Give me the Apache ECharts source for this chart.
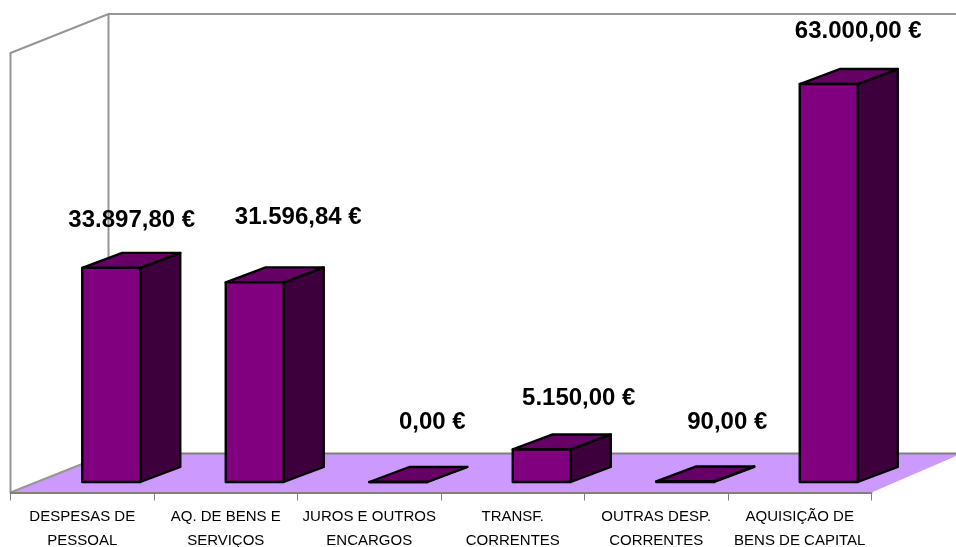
<!DOCTYPE html>
<html><head><meta charset="utf-8">
<style>html,body{margin:0;padding:0;background:#fff}#c{width:956px;height:547px}</style>
<script src="https://cdn.jsdelivr.net/npm/echarts@6/dist/echarts.min.js"></script>
</head><body><div id="c"></div>
<script>
const categories = ['DESPESAS DE\nPESSOAL','AQ. DE BENS E\nSERVIÇOS','JUROS E OUTROS\nENCARGOS','TRANSF.\nCORRENTES','OUTRAS DESP.\nCORRENTES','AQUISIÇÃO DE\nBENS DE CAPITAL'];
const values = [33897.80, 31596.84, 0, 5150, 90, 63000];
// hand-placed data label nudges [dx, dy] relative to each bar's top-back centre
const labelNudge = [[0.5,-32],[23.5,-50],[14,-45],[17,-36],[22,-44],[9.5,-38]];
const axisMax = 69575;

const fmt = v => v.toFixed(2).replace('.',',').replace(/\B(?=(\d{3})(?!\d))(?=.*,)/g,'.') + ' €';

const STROKE = {stroke:'#000', lineWidth:2.4, lineJoin:'round'};
const DX = 40, DY = -15, BAR_W = 58, LIFT = 10.5;

function renderBar(params, api){
  const i = api.value(0), v = api.value(1);
  const top = api.coord([i, v]), base = api.coord([i, 0]);
  const x0 = top[0], x1 = x0 + BAR_W, yT = top[1] - LIFT, yB = base[1] - LIFT;
  const n = labelNudge[i];
  return {type:'group', children:[
    {type:'polygon', shape:{points:[[x1,yT],[x1+DX,yT+DY],[x1+DX,yB+DY],[x1,yB]]}, style:{fill:'#3d003d',...STROKE}},
    {type:'polygon', shape:{points:[[x0,yT],[x0+DX,yT+DY],[x1+DX,yT+DY],[x1,yT]]}, style:{fill:'#660066',...STROKE}},
    {type:'polygon', shape:{points:[[x0,yT],[x1,yT],[x1,yB],[x0,yB]]}, style:{fill:'#800080',...STROKE}},
    {type:'text', z2:10, style:{text:fmt(v), x:(x0+x1+DX)/2+n[0], y:yT+DY+n[1], textAlign:'center', textVerticalAlign:'middle',
      font:'bold 24px "Liberation Sans"', fill:'#000'}}
  ]};
}

function renderWalls(params, api){
  const band = api.size([1,0])[0];
  const L = api.coord([0,0])[0] - band/2, R = api.coord([categories.length-1,0])[0] + band/2;
  const y0 = api.coord([0,0])[1], yTop = api.coord([0,axisMax])[1];
  const WX = 98, WY = -39, RX = 90;
  const line = {stroke:'#969696', lineWidth:2, fill:null};
  return {type:'group', children:[
    {type:'polygon', shape:{points:[[L,y0],[R,y0],[R+RX,y0+WY],[L+WX,y0+WY]]}, style:{fill:'#cc99ff'}},
    {type:'polyline', shape:{points:[[L,y0],[L,yTop],[L+WX,yTop+WY],[L+WX,y0+WY],[L,y0]]}, style:line},
    {type:'line', shape:{x1:L+WX,y1:yTop+WY,x2:956,y2:yTop+WY}, style:line},
    {type:'line', shape:{x1:L+WX,y1:y0+WY,x2:956,y2:y0+WY}, style:{stroke:'#808080',lineWidth:2}}
  ]};
}

const chart = echarts.init(document.getElementById('c'), null, {width:956, height:547});
chart.setOption({
  animation:false,
  backgroundColor:'#fff',
  grid:{left:10.5, right:84.5, top:53, bottom:54.5, outerBoundsMode:'none'},
  xAxis:{type:'category', data:categories, boundaryGap:true, z:5,
    axisLine:{lineStyle:{color:'#808080', width:2}},
    axisTick:{show:true, length:8, alignWithLabel:false, lineStyle:{color:'#808080', width:1}},
    axisLabel:{interval:0, fontFamily:'Liberation Sans', fontSize:15, color:'#000', lineHeight:24, margin:12}
  },
  yAxis:{type:'value', min:0, max:axisMax, show:false, splitLine:{show:false}},
  series:[
    {type:'custom', name:'walls', renderItem:renderWalls, data:[[0,0]], clip:false, silent:true, z:1},
    {type:'custom', name:'valores', renderItem:renderBar, data:values.map((v,i)=>[i,v]), encode:{x:0,y:1}, clip:false, z:2}
  ]
});
</script></body></html>
